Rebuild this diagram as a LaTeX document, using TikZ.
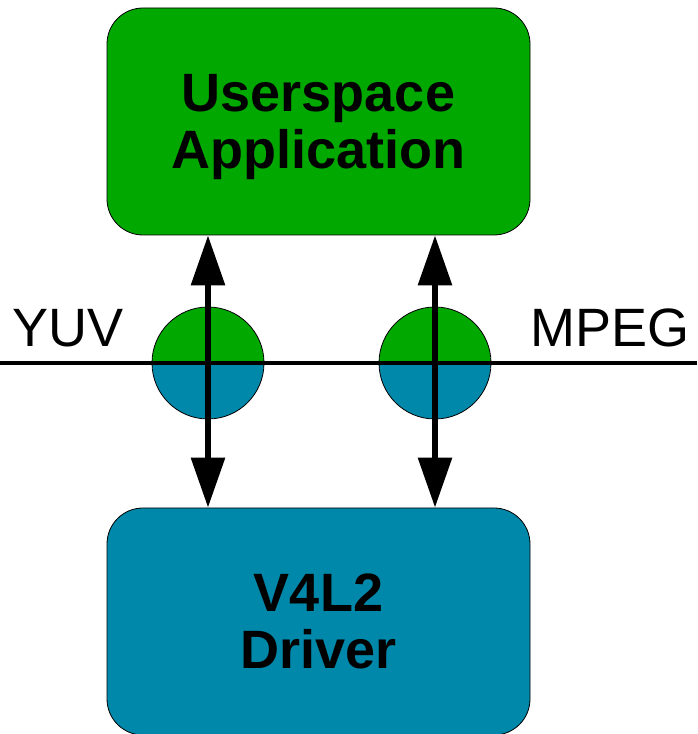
\documentclass[tikz,border=0pt]{standalone}
\usepackage{fontspec}
\setmainfont{Liberation Sans}
\usetikzlibrary{arrows.meta}
\definecolor{appgreen}{RGB}{0,168,0}
\definecolor{drvblue}{RGB}{0,136,170}
\tikzset{
  box/.style={draw=black,line width=0.8pt,rounded corners=36pt,
    minimum width=423pt,minimum height=227pt,inner sep=0pt,align=center,
    text depth=0pt,font=\fontsize{54}{57}\selectfont\bfseries},
  port/.style={circle,draw=black,line width=0.8pt,minimum size=112pt,inner sep=0pt,
    path picture={
      \fill[appgreen] (path picture bounding box.west) rectangle (path picture bounding box.north east);
      \fill[drvblue] (path picture bounding box.west) rectangle (path picture bounding box.south east);}},
  wire/.style={line width=4pt},
  flow/.style={line width=6pt,{Triangle[width=33pt,length=50pt]}-{Triangle[width=33pt,length=50pt]}},
  fmt/.style={inner sep=0pt,font=\fontsize{54}{57}\selectfont}
}
\begin{document}
\begin{tikzpicture}[x=1pt,y=1pt]
    \useasboundingbox (0,0) rectangle (697,734);
    \node[box,fill=appgreen] (app) at (318.5,612.5) {Userspace\\Application};
    \node[box,fill=drvblue] (drv) at (318.5,112.5) {V4L2\\Driver};
    %
    \node[port] (yuv) at (208,371) {};
    \node[port] (mpeg) at (435,371) {};
    \coordinate (wl) at (0,371);
    \coordinate (wr) at (697,371);
    \draw[wire] (wl) -- (wr);
    %
    \node[fmt,anchor=base west] (yuvlbl) at (12,387) {YUV};
    \node[fmt,anchor=base east] (mpeglbl) at (690,387) {MPEG};
    %
    \draw[flow] (yuv |- app.south) -- (yuv |- drv.north);
    \draw[flow] (mpeg |- app.south) -- (mpeg |- drv.north);
\end{tikzpicture}
\end{document}
